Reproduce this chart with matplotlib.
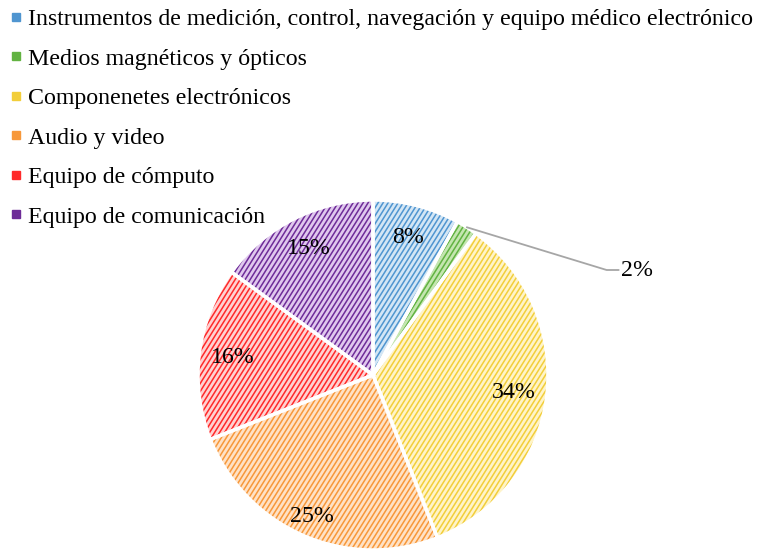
import matplotlib
matplotlib.use("Agg")
import matplotlib.pyplot as plt
import numpy as np
from matplotlib.lines import Line2D
from matplotlib.collections import LineCollection

plt.rcParams["font.family"] = ["Liberation Serif", "DejaVu Serif"]

labels = [
    "Instrumentos de medición, control, navegación y equipo médico electrónico",
    "Medios magnéticos y ópticos",
    "Componenetes electrónicos",
    "Audio y video",
    "Equipo de cómputo",
    "Equipo de comunicación",
]
shares = [8, 2, 34, 25, 16, 15]
line_colors = ["#4F95D0", "#62B342", "#F2CE3A", "#F7983A", "#FF2A2A", "#6E2C98"]
fill_colors = ["#D3E6F5", "#C4E6B0", "#FFF4C8", "#FFE2C6", "#FFD2D2", "#E0C8EE"]

W, H = 758, 554
fig = plt.figure(figsize=(W / 100, H / 100), dpi=100)
cx, cy, r = 373, 375, 175
ax = fig.add_axes([(cx - r) / W, (H - cy - r) / H, 2 * r / W, 2 * r / H])

wedges, _ = ax.pie(shares, startangle=90, counterclock=False, radius=1,
                   colors=fill_colors, wedgeprops=dict(linewidth=0))

# Excel-style dashed diagonal pattern: steep parallel stripes clipped to each wedge
ang = np.deg2rad(58)
step = 5.0 / r  # horizontal spacing of stripes, in data units
offs = np.arange(-2.5, 2.5, step)
dx, dy = np.cos(ang) * 3, np.sin(ang) * 3
segs = [[(o - dx, -dy), (o + dx, dy)] for o in offs]
for w, c in zip(wedges, line_colors):
    lc = LineCollection(segs, colors=c, linewidths=1.1, zorder=w.get_zorder() + 0.1)
    ax.add_collection(lc)
    lc.set_clip_path(w)

ax.pie(shares, startangle=90, counterclock=False, radius=1,
       colors=["none"] * len(shares),
       wedgeprops=dict(linewidth=2.5, edgecolor="white", fill=False, zorder=5))

theta = 90.0
for s in shares:
    span = s / sum(shares) * 360
    mid = np.deg2rad(theta - span / 2)
    theta -= span
    txt = f"{s}%"
    if s == 2:
        ax.annotate(txt, xy=(np.cos(mid), np.sin(mid)), xytext=(1.42, 0.6),
                    fontsize=17.2, va="center", ha="left", zorder=6,
                    arrowprops=dict(arrowstyle="-", color="#A6A6A6", lw=1.3,
                                    connectionstyle="angle,angleA=0,angleB=-17,rad=0",
                                    shrinkA=0, shrinkB=0))
        continue
    d = 0.88 if s == 25 else 0.81
    ax.text(np.cos(mid) * d, np.sin(mid) * d, txt, fontsize=17.2,
            ha="center", va="center", zorder=6)
ax.set_xlim(-1, 1)
ax.set_ylim(-1, 1)
ax.set_aspect("equal")
ax.axis("off")

handles = [Line2D([], [], marker="s", linestyle="none", markersize=5.5,
                  markerfacecolor=c, markeredgecolor=c) for c in line_colors]
fig.legend(handles, labels, loc="upper left", bbox_to_anchor=(0.0106, 0.987),
           frameon=False, fontsize=17.2, handlelength=0.6, handletextpad=0.2,
           labelspacing=0.745, borderaxespad=0.0, borderpad=0.05)

fig.savefig("out.png", dpi=100)
